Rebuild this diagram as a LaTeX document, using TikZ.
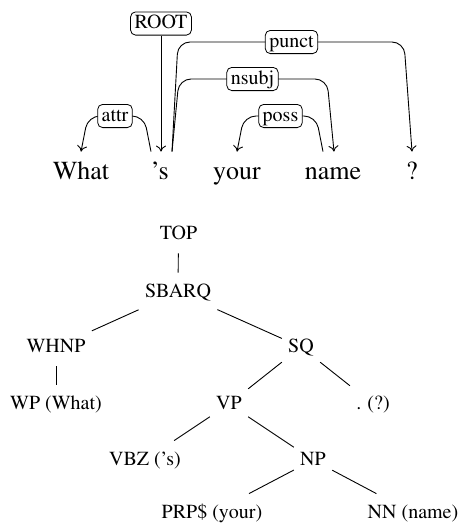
\documentclass[tikz,border=0pt]{standalone}
\usepackage[T1]{fontenc}
\renewcommand{\rmdefault}{ptm}
\usetikzlibrary{arrows.meta,backgrounds}

\begin{document}
\begin{tikzpicture}[x=0.5pt, y=-0.5pt,
  word/.style={font=\fontsize{13}{15}\selectfont, anchor=base, inner xsep=0pt,
               inner ysep=4.5pt, text height=9pt, text depth=3pt},
  lab/.style={draw, rounded corners=2.5pt, fill=white, font=\fontsize{10}{12}\selectfont,
              inner xsep=2pt, inner ysep=1.5pt, text height=6.8pt, text depth=1.8pt},
  dep/.style={-{To[length=3pt,width=5pt]}, rounded corners=6pt, line width=0.45pt},
  cat/.style={font=\fontsize{10}{12}\selectfont, anchor=base, inner xsep=3pt,
              inner ysep=5pt, text height=7pt, text depth=2pt},
  branch/.style={line width=0.45pt}]
  \useasboundingbox (0,0) rectangle (461,525);
  % dependency parse
  \node[word] (what) at (81,179) {What};
  \node[word] (s) at (160,179) {'s};
  \node[word] (your) at (237,179) {your};
  \node[word] (name) at (333,179) {name};
  \node[word] (q) at (412,179) {?};
  \node[lab] (root) at (161,23.5) {ROOT};
  \node[lab] (punct) at (291.5,42) {punct};
  \node[lab] (nsubj) at (252.5,79) {nsubj};
  \node[lab] (attr) at (115,116) {attr};
  \node[lab] (poss) at (280.5,116) {poss};
  \begin{scope}[on background layer]
    \draw[dep] (root) -- (root |- s.north);
    \draw[dep] ([xshift=-4.5pt]s.north) -- ([xshift=-8pt]s.north |- attr)
      -- ([xshift=3.5pt]what.north |- attr) -- (what.north);
    \draw[dep] ([xshift=-5pt]name.north) -- ([xshift=-8.5pt]name.north |- poss)
      -- ([xshift=3.5pt]your.north |- poss) -- (your.north);
    \draw[dep] ([xshift=6pt]s.north) -- ([xshift=9.5pt]s.north |- nsubj)
      -- ([xshift=-3pt]name.north |- nsubj) -- ([xshift=0.5pt]name.north);
    \draw[dep] ([xshift=6pt]s.north) -- ([xshift=9pt]s.north |- punct)
      -- ([xshift=-4pt]q.north |- punct) -- (q.north);
  \end{scope}
  % constituency tree
  \node[cat] (top) at (178.5,239) {TOP};
  \node[cat] (sbarq) at (178,297) {SBARQ};
  \node[cat] (whnp) at (56,352) {WHNP};
  \node[cat] (sq) at (301,352) {SQ};
  \node[cat] (wp) at (56,409) {WP (What)};
  \node[cat] (vp) at (229,409) {VP};
  \node[cat] (punc) at (373,409) {. (?)};
  \node[cat] (vbz) at (145,465) {VBZ ('s)};
  \node[cat] (np) at (313,465) {NP};
  \node[cat] (prp) at (212,518) {PRP\$ (your)};
  \node[cat] (nn) at (413,518) {NN (name)};
  \draw[branch] (top) -- (sbarq);
  \draw[branch] (sbarq) -- (whnp);
  \draw[branch] (sbarq) -- (sq);
  \draw[branch] (whnp) -- (wp);
  \draw[branch] (sq) -- (vp);
  \draw[branch] (sq) -- (punc);
  \draw[branch] (vp) -- (vbz);
  \draw[branch] (vp) -- (np);
  \draw[branch] (np) -- (prp);
  \draw[branch] (np) -- (nn);
\end{tikzpicture}
\end{document}
